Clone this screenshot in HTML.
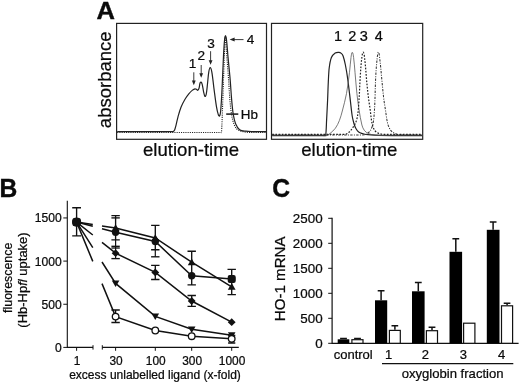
<!DOCTYPE html>
<html><head><meta charset="utf-8"><title>Figure</title>
<style>
html,body{margin:0;padding:0;background:#fff;}
body{width:520px;height:382px;overflow:hidden;}
svg{display:block;}
text{font-family:"Liberation Sans",Arial,Helvetica,sans-serif;fill:#0a0a0a;stroke:#0a0a0a;stroke-width:0.24px;}
.b{font-weight:bold;stroke-width:0.4px;}
</style></head><body>
<svg width="520" height="382" viewBox="0 0 520 382">
<rect x="0" y="0" width="520" height="382" fill="#fff"/>

<text class="b" transform="translate(96.6,19.2) scale(1.03,1)" font-size="24.8">A</text>
<rect x="116.6" y="23.4" width="149.9" height="115.9" fill="none" stroke="#222" stroke-width="1.2"/>
<rect x="271.5" y="23.4" width="151.2" height="115.9" fill="none" stroke="#222" stroke-width="1.2"/>
<text transform="translate(110.6,79.8) rotate(-90)" text-anchor="middle" font-size="18.5">absorbance</text>
<text x="191" y="155.7" text-anchor="middle" font-size="18.6">elution-time</text>
<text x="349.3" y="155.8" text-anchor="middle" font-size="18.6">elution-time</text>
<path d="M117.20,131.60 C134.13,131.60 151.07,131.60 168.00,131.60 C169.33,131.60 170.67,131.60 172.00,131.60 C172.43,131.60 172.93,131.83 173.30,131.60 C173.89,131.24 174.33,130.63 174.60,130.00 C175.24,128.50 175.59,126.88 176.00,125.30 C176.73,122.48 177.22,119.60 178.00,116.80 C178.89,113.60 179.77,110.38 181.00,107.30 C182.11,104.53 183.50,101.87 185.00,99.30 C186.17,97.30 187.53,95.40 189.00,93.60 C190.04,92.32 191.21,91.13 192.50,90.10 C193.23,89.51 194.07,88.96 195.00,88.80 C195.56,88.70 196.10,89.13 196.60,89.40 C197.04,89.64 197.35,90.51 197.80,90.30 C198.40,90.03 198.77,89.04 199.00,88.30 C199.50,86.71 199.50,84.85 200.00,83.30 C200.16,82.80 200.53,81.88 201.00,82.10 C201.60,82.37 201.98,83.49 202.20,84.30 C202.86,86.76 203.03,89.32 203.60,91.80 C203.96,93.36 204.30,95.88 205.00,96.40 C205.65,96.88 206.11,94.75 206.30,93.80 C206.90,90.78 207.12,87.14 207.50,83.80 C207.95,79.80 208.15,75.70 208.80,71.80 C209.04,70.34 209.50,67.60 210.20,67.60 C211.00,67.60 211.54,70.33 211.80,71.80 C212.81,77.42 213.24,83.14 214.00,88.80 C214.81,94.80 215.50,100.82 216.50,106.80 C216.94,109.43 217.47,112.06 218.30,114.60 C218.49,115.18 219.11,116.47 219.50,116.00 C220.05,115.33 220.46,113.24 220.60,111.80 C221.30,104.49 221.62,97.14 222.00,89.80 C222.59,78.47 222.91,67.13 223.50,55.80 C223.78,50.36 224.06,44.92 224.60,39.50 C224.73,38.24 225.05,35.73 225.50,35.80 C226.00,35.88 226.34,38.44 226.50,39.80 C227.17,45.45 227.48,51.14 228.00,56.80 C228.71,64.54 229.54,72.26 230.20,80.00 C230.78,86.79 231.09,93.61 231.70,100.40 C232.13,105.14 232.50,109.90 233.30,114.60 C233.84,117.79 234.50,121.12 235.70,124.00 C236.59,126.12 237.72,128.37 239.60,129.70 C241.36,130.94 243.76,130.90 245.90,131.20 C248.25,131.53 250.63,131.52 253.00,131.60 C254.67,131.66 256.33,131.60 258.00,131.60 C260.67,131.60 263.33,131.60 266.00,131.60" fill="none" stroke="#222" stroke-width="1.2" stroke-linejoin="round"/>
<path d="M117.20,132.50 C149.80,132.50 182.40,132.50 215.00,132.50 C216.83,132.50 218.67,132.50 220.50,132.50 C220.80,132.50 221.34,132.79 221.40,132.50 C221.65,131.16 221.80,127.50 221.90,125.00 C222.50,110.00 222.96,95.00 223.50,80.00 C223.86,70.00 224.15,60.00 224.60,50.00 C224.81,45.33 225.05,36.00 225.50,36.00 C225.95,36.00 226.07,45.34 226.40,50.00 C227.10,60.00 227.89,70.00 228.60,80.00 C229.16,87.86 229.42,95.75 230.20,103.60 C230.72,108.86 231.35,114.72 232.50,119.30 C233.33,122.60 234.50,126.36 236.50,128.70 C238.04,130.50 240.72,130.96 243.00,131.60 C245.26,132.24 247.65,132.34 250.00,132.50 C252.00,132.64 254.00,132.50 256.00,132.50 C259.33,132.50 262.67,132.50 266.00,132.50" fill="none" stroke="#222" stroke-width="1.1" stroke-dasharray="1.1,1.1"/>
<text x="192.6" y="68.2" text-anchor="middle" font-size="13.6">1</text>
<text x="201.2" y="59.5" text-anchor="middle" font-size="13.6">2</text>
<text x="211" y="47.7" text-anchor="middle" font-size="13.6">3</text>
<text x="250.5" y="44.3" text-anchor="middle" font-size="13.6">4</text>
<text x="240.8" y="119.2" font-size="13.4">Hb</text>
<path d="M193.8,72.3 L193.8,83.2" stroke="#222" stroke-width="0.9" fill="none"/>
<path d="M191.9,80.60000000000001 L195.70000000000002,80.60000000000001 L193.8,85.2 Z" fill="#222"/>
<path d="M201.2,65 L201.2,75.8" stroke="#222" stroke-width="0.9" fill="none"/>
<path d="M199.29999999999998,73.2 L203.1,73.2 L201.2,77.8 Z" fill="#222"/>
<path d="M210.6,51.2 L210.6,62.8" stroke="#222" stroke-width="0.9" fill="none"/>
<path d="M208.7,60.199999999999996 L212.5,60.199999999999996 L210.6,64.8 Z" fill="#222"/>
<path d="M243.5,39.6 L233,39.6" stroke="#222" stroke-width="0.9" fill="none"/>
<path d="M234.6,37.6 L234.6,41.6 L229.6,39.6 Z" fill="#222"/>
<path d="M226.2,114.1 L238.3,114.1" stroke="#222" stroke-width="1.6" fill="none"/>
<text x="338" y="40.6" text-anchor="middle" font-size="14.5">1</text>
<text x="352.4" y="40.6" text-anchor="middle" font-size="14.5">2</text>
<text x="363.9" y="40.6" text-anchor="middle" font-size="14.5">3</text>
<text x="378.9" y="40.6" text-anchor="middle" font-size="14.5">4</text>
<path d="M272.20,135.30 C288.80,135.30 305.40,135.30 322.00,135.30 C322.93,135.30 323.87,135.30 324.80,135.30 C325.07,135.30 325.52,135.56 325.60,135.30 C325.85,134.47 326.01,132.44 326.10,131.00 C326.34,127.34 326.42,123.67 326.60,120.00 C326.92,113.33 327.30,106.67 327.60,100.00 C327.87,94.00 328.00,88.00 328.30,82.00 C328.53,77.33 328.75,71.56 329.20,68.00 C329.65,64.45 330.30,60.25 331.40,57.50 C332.13,55.68 333.59,54.13 335.20,53.00 C336.20,52.30 337.58,52.22 338.80,52.30 C339.71,52.36 340.61,52.81 341.30,53.40 C342.10,54.09 342.75,55.01 343.10,56.00 C344.13,58.92 344.79,61.96 345.40,65.00 C346.32,69.57 347.06,74.18 347.70,78.80 C348.69,85.88 349.44,93.00 350.30,100.10 C350.94,105.40 351.39,110.72 352.20,116.00 C352.56,118.37 353.16,120.69 353.80,123.00 C354.23,124.56 354.70,126.13 355.40,127.60 C355.95,128.75 356.65,129.85 357.50,130.80 C358.20,131.58 359.06,132.24 360.00,132.70 C361.26,133.32 362.64,133.66 364.00,134.00 C365.31,134.33 366.65,134.57 368.00,134.70 C370.33,134.93 372.66,135.03 375.00,135.10 C379.33,135.23 383.67,135.28 388.00,135.30 C399.33,135.35 410.67,135.30 422.00,135.30" fill="none" stroke="#222" stroke-width="1.2"/>
<path d="M272.20,135.90 C288.80,135.90 305.40,135.90 322.00,135.90 C323.33,135.90 324.72,136.28 326.00,135.90 C327.49,135.45 328.80,134.49 330.00,133.50 C331.95,131.90 333.92,130.24 335.40,128.20 C337.09,125.86 338.32,123.18 339.40,120.50 C340.63,117.43 341.46,114.20 342.30,111.00 C343.83,105.20 345.40,99.40 346.50,93.50 C347.81,86.48 348.61,79.38 349.50,72.30 C350.12,67.38 350.31,62.41 351.00,57.50 C351.25,55.73 351.65,52.30 352.30,52.30 C352.95,52.30 353.36,55.73 353.60,57.50 C354.26,62.41 354.55,67.37 355.00,72.30 C355.65,79.37 356.14,86.45 356.90,93.50 C357.48,98.85 358.16,104.19 359.00,109.50 C359.82,114.69 360.59,119.91 361.90,125.00 C362.40,126.95 363.17,128.90 364.40,130.50 C365.44,131.86 366.93,132.91 368.50,133.60 C370.54,134.50 372.79,134.92 375.00,135.20 C378.31,135.62 381.67,135.56 385.00,135.70 C387.33,135.80 389.67,135.89 392.00,135.90 C402.00,135.95 412.00,135.90 422.00,135.90" fill="none" stroke="#555" stroke-width="0.8"/>
<path d="M272.20,134.40 C294.13,134.40 316.07,134.40 338.00,134.40 C339.67,134.40 341.33,134.46 343.00,134.40 C344.07,134.36 345.21,134.50 346.20,134.10 C347.44,133.60 348.53,132.72 349.50,131.80 C350.58,130.77 351.45,129.53 352.30,128.30 C353.42,126.69 354.63,125.11 355.40,123.30 C356.42,120.90 357.20,118.37 357.60,115.80 C358.30,111.31 358.65,105.41 359.00,100.20 C359.55,92.07 359.77,83.93 360.30,75.80 C360.67,70.13 361.01,64.44 361.70,58.80 C361.98,56.56 362.45,52.20 363.20,52.20 C363.95,52.20 364.44,56.56 364.70,58.80 C365.67,67.01 366.11,75.27 366.90,83.50 C367.34,88.11 367.83,92.71 368.40,97.30 C368.86,101.04 369.46,104.77 370.00,108.50 C370.76,113.83 371.15,119.52 372.30,124.50 C372.83,126.81 373.75,129.25 375.20,131.00 C376.38,132.43 378.23,133.24 380.00,133.80 C381.92,134.40 383.99,134.37 386.00,134.40 C398.00,134.57 410.00,134.40 422.00,134.40" fill="none" stroke="#222" stroke-width="1.2" stroke-dasharray="1.7,1.5"/>
<path d="M272.20,135.00 C299.80,135.00 327.40,135.00 355.00,135.00 C357.33,135.00 359.67,135.13 362.00,135.00 C363.35,134.93 364.75,134.90 366.00,134.40 C367.15,133.94 368.12,133.08 369.00,132.20 C369.81,131.39 370.51,130.44 371.00,129.40 C371.89,127.51 372.75,125.56 373.10,123.50 C373.85,119.04 374.31,113.18 374.60,108.00 C375.15,98.16 375.18,87.33 375.70,77.00 C375.98,71.32 376.38,65.65 377.00,60.00 C377.29,57.37 377.70,52.20 378.40,52.20 C379.15,52.20 379.58,57.37 379.90,60.00 C380.85,67.81 381.42,75.67 382.20,83.50 C382.72,88.67 383.17,93.84 383.80,99.00 C384.23,102.51 384.84,106.00 385.40,109.50 C386.14,114.17 386.55,119.05 387.70,123.50 C388.33,125.94 389.28,128.39 390.80,130.40 C391.94,131.91 393.65,132.98 395.40,133.70 C397.47,134.55 399.76,134.89 402.00,135.00 C408.66,135.33 415.33,135.00 422.00,135.00" fill="none" stroke="#333" stroke-width="1.05" stroke-dasharray="2.4,1.3,1,1.3"/>
<text class="b" transform="translate(-0.6,197.1) scale(1,1.04)" font-size="24.6">B</text>
<text transform="translate(11.8,277.8) rotate(-90)" text-anchor="middle" font-size="12.4">fluorescence</text>
<text transform="translate(26.6,280) rotate(-90)" text-anchor="middle" font-size="13">(Hb-Hp<tspan font-style="italic">fl</tspan> uptake)</text>
<path d="M67.3,200.7 L67.3,347.4 L93,347.4 M102.3,347.4 L238.8,347.4" stroke="#111" stroke-width="1.1" fill="none"/>
<path d="M93,345.2 L93,349.59999999999997 M102.3,345.2 L102.3,349.59999999999997" stroke="#111" stroke-width="1" fill="none"/>
<path d="M63.3,347.4 L67.3,347.4" stroke="#111" stroke-width="1" fill="none"/>
<text x="61.7" y="351.8" text-anchor="end" font-size="12.1">0</text>
<path d="M63.3,304.25 L67.3,304.25" stroke="#111" stroke-width="1" fill="none"/>
<text x="61.7" y="308.6" text-anchor="end" font-size="12.1">500</text>
<path d="M63.3,261.09999999999997 L67.3,261.09999999999997" stroke="#111" stroke-width="1" fill="none"/>
<text x="61.7" y="265.5" text-anchor="end" font-size="12.1">1000</text>
<path d="M63.3,217.95 L67.3,217.95" stroke="#111" stroke-width="1" fill="none"/>
<text x="61.7" y="222.3" text-anchor="end" font-size="12.1">1500</text>
<path d="M76.6,347.4 L76.6,350.79999999999995" stroke="#111" stroke-width="1" fill="none"/>
<text x="77.0" y="364.6" text-anchor="middle" font-size="11.9">1</text>
<path d="M115.6,347.4 L115.6,350.79999999999995" stroke="#111" stroke-width="1" fill="none"/>
<text x="116.0" y="364.6" text-anchor="middle" font-size="11.9">30</text>
<path d="M155.3,347.4 L155.3,350.79999999999995" stroke="#111" stroke-width="1" fill="none"/>
<text x="155.70000000000002" y="364.6" text-anchor="middle" font-size="11.9">100</text>
<path d="M191.7,347.4 L191.7,350.79999999999995" stroke="#111" stroke-width="1" fill="none"/>
<text x="192.1" y="364.6" text-anchor="middle" font-size="11.9">300</text>
<path d="M231.7,347.4 L231.7,350.79999999999995" stroke="#111" stroke-width="1" fill="none"/>
<text x="232.1" y="364.6" text-anchor="middle" font-size="11.9">1000</text>
<text x="155" y="379.4" text-anchor="middle" font-size="12.03">excess unlabelled ligand (x-fold)</text>
<path d="M76.6,222.1 L92.8,224.6 M102,225.9 L115.6,228.0 L155.3,238.0 L191.7,262.2 L231.7,286.8" stroke="#111" stroke-width="1.5" fill="none"/>
<path d="M76.6,222.1 L92.8,226.3 M102,228.7 L115.6,232.2 L155.3,241.5 L191.7,275.8 L231.7,279.0" stroke="#111" stroke-width="1.5" fill="none"/>
<path d="M76.6,222.1 L92.8,235.0 M102,242.4 L115.6,253.2 L155.3,272.4 L191.7,301.0 L231.7,322.2" stroke="#111" stroke-width="1.5" fill="none"/>
<path d="M76.6,222.1 L92.8,247.6 M102,262.0 L115.6,283.4 L155.3,316.4 L191.7,329.3 L231.7,335.2" stroke="#111" stroke-width="1.5" fill="none"/>
<path d="M76.6,222.1 L92.8,261.4 M102,283.6 L115.6,316.6 L155.3,330.5 L191.7,336.2 L231.7,338.8" stroke="#111" stroke-width="1.5" fill="none"/>
<path d="M76.6,207.7 L76.6,235.9 M72.19999999999999,207.7 L81.0,207.7 M72.19999999999999,235.9 L81.0,235.9" stroke="#111" stroke-width="1.35" fill="none"/>
<path d="M115.6,215.6 L115.6,239.8 M111.39999999999999,215.6 L119.8,215.6 M111.39999999999999,239.8 L119.8,239.8" stroke="#111" stroke-width="1.35" fill="none"/>
<path d="M111.39999999999999,217.9 L119.8,217.9" stroke="#111" stroke-width="1.35" fill="none"/>
<path d="M111.39999999999999,246.3 L119.8,246.3" stroke="#111" stroke-width="1.35" fill="none"/>
<path d="M115.6,240 L115.6,258.6" stroke="#111" stroke-width="1.2"/>
<path d="M111.39999999999999,248 L119.8,248" stroke="#111" stroke-width="1.35" fill="none"/>
<path d="M111.39999999999999,258.6 L119.8,258.6" stroke="#111" stroke-width="1.35" fill="none"/>
<path d="M115.6,310 L115.6,322.5 M111.39999999999999,310 L119.8,310 M111.39999999999999,322.5 L119.8,322.5" stroke="#111" stroke-width="1.35" fill="none"/>
<path d="M155.3,225.3 L155.3,249.7 M151.10000000000002,225.3 L159.5,225.3 M151.10000000000002,249.7 L159.5,249.7" stroke="#111" stroke-width="1.35" fill="none"/>
<path d="M151.10000000000002,256.8 L159.5,256.8" stroke="#111" stroke-width="1.35" fill="none"/>
<path d="M155.3,249 L155.3,256.8" stroke="#111" stroke-width="1.2"/>
<path d="M155.3,265.4 L155.3,279.5 M151.10000000000002,265.4 L159.5,265.4 M151.10000000000002,279.5 L159.5,279.5" stroke="#111" stroke-width="1.35" fill="none"/>
<path d="M191.7,251.2 L191.7,284.8 M187.5,251.2 L195.89999999999998,251.2 M187.5,284.8 L195.89999999999998,284.8" stroke="#111" stroke-width="1.35" fill="none"/>
<path d="M191.7,295.5 L191.7,306.3 M187.5,295.5 L195.89999999999998,295.5 M187.5,306.3 L195.89999999999998,306.3" stroke="#111" stroke-width="1.35" fill="none"/>
<path d="M231.7,269.3 L231.7,294.6 M227.5,269.3 L235.89999999999998,269.3 M227.5,294.6 L235.89999999999998,294.6" stroke="#111" stroke-width="1.35" fill="none"/>
<path d="M231.7,335.5 L231.7,343 M228.1,335.5 L235.29999999999998,335.5 M228.1,343 L235.29999999999998,343" stroke="#111" stroke-width="1.35" fill="none"/>
<path d="M111.69999999999999,230.925 L119.5,230.925 L115.6,224.295 Z" fill="#111"/>
<path d="M151.4,240.925 L159.20000000000002,240.925 L155.3,234.295 Z" fill="#111"/>
<path d="M187.79999999999998,265.125 L195.6,265.125 L191.7,258.495 Z" fill="#111"/>
<path d="M227.79999999999998,289.725 L235.6,289.725 L231.7,283.095 Z" fill="#111"/>
<circle cx="115.6" cy="232.2" r="3.7" fill="#111"/>
<circle cx="155.3" cy="241.5" r="3.7" fill="#111"/>
<circle cx="191.7" cy="275.8" r="3.7" fill="#111"/>
<circle cx="231.7" cy="279.0" r="3.7" fill="#111"/>
<path d="M111.69999999999999,253.2 L115.6,249.29999999999998 L119.5,253.2 L115.6,257.09999999999997 Z" fill="#111"/>
<path d="M151.4,272.4 L155.3,268.5 L159.20000000000002,272.4 L155.3,276.29999999999995 Z" fill="#111"/>
<path d="M187.79999999999998,301.0 L191.7,297.1 L195.6,301.0 L191.7,304.9 Z" fill="#111"/>
<path d="M227.79999999999998,322.2 L231.7,318.3 L235.6,322.2 L231.7,326.09999999999997 Z" fill="#111"/>
<path d="M111.8,280.54999999999995 L119.39999999999999,280.54999999999995 L115.6,287.01 Z" fill="#111"/>
<path d="M151.5,313.54999999999995 L159.10000000000002,313.54999999999995 L155.3,320.01 Z" fill="#111"/>
<path d="M187.89999999999998,326.45 L195.5,326.45 L191.7,332.91 Z" fill="#111"/>
<path d="M227.89999999999998,332.34999999999997 L235.5,332.34999999999997 L231.7,338.81 Z" fill="#111"/>
<circle cx="115.6" cy="316.6" r="3.3" fill="#fff" stroke="#111" stroke-width="1.3"/>
<circle cx="155.3" cy="330.5" r="3.3" fill="#fff" stroke="#111" stroke-width="1.3"/>
<circle cx="191.7" cy="336.2" r="3.3" fill="#fff" stroke="#111" stroke-width="1.3"/>
<circle cx="231.7" cy="338.8" r="3.3" fill="#fff" stroke="#111" stroke-width="1.3"/>
<rect x="72.39999999999999" y="217.9" width="8.4" height="8.4" rx="2.2" fill="#111"/>
<circle cx="76.6" cy="222.1" r="4.6" fill="#111"/>
<rect x="227.7" y="275.1" width="8" height="7.8" rx="2" fill="#111"/>
<text class="b" transform="translate(272.2,197.4) scale(1,1.05)" font-size="24.6">C</text>
<text transform="translate(285.3,278.8) rotate(-90)" text-anchor="middle" font-size="15.1">HO-1 mRNA</text>
<path d="M332.1,217.8 L332.1,343.3 L518.6,343.3" stroke="#111" stroke-width="1.2" fill="none"/>
<path d="M328.2,343.3 L332.1,343.3" stroke="#111" stroke-width="1" fill="none"/>
<text x="322.6" y="348.1" text-anchor="end" font-size="13.4">0</text>
<path d="M328.2,318.3 L332.1,318.3" stroke="#111" stroke-width="1" fill="none"/>
<text x="322.6" y="323.1" text-anchor="end" font-size="13.4">500</text>
<path d="M328.2,293.3 L332.1,293.3" stroke="#111" stroke-width="1" fill="none"/>
<text x="322.6" y="298.1" text-anchor="end" font-size="13.4">1000</text>
<path d="M328.2,268.3 L332.1,268.3" stroke="#111" stroke-width="1" fill="none"/>
<text x="322.6" y="273.1" text-anchor="end" font-size="13.4">1500</text>
<path d="M328.2,243.3 L332.1,243.3" stroke="#111" stroke-width="1" fill="none"/>
<text x="322.6" y="248.1" text-anchor="end" font-size="13.4">2000</text>
<path d="M328.2,218.3 L332.1,218.3" stroke="#111" stroke-width="1" fill="none"/>
<text x="322.6" y="223.1" text-anchor="end" font-size="13.4">2500</text>
<path d="M343.5,339.3 L343.5,338.6 M340.1,338.6 L346.9,338.6" stroke="#111" stroke-width="1.5" fill="none"/>
<rect x="337.7" y="339.3" width="11.6" height="4.0" fill="#000"/>
<path d="M357.5,339.1 L357.5,338.4 M354.1,338.4 L360.9,338.4" stroke="#111" stroke-width="1.5" fill="none"/>
<rect x="351.90000000000003" y="339.7" width="11.1" height="3.6" fill="#fff" stroke="#111" stroke-width="1.2"/>
<path d="M381.1,300.3 L381.1,290.8 M377.7,290.8 L384.5,290.8" stroke="#111" stroke-width="1.5" fill="none"/>
<rect x="375.0" y="300.3" width="12.2" height="43.0" fill="#000"/>
<path d="M394.9,329.8 L394.9,325.8 M391.5,325.8 L398.2,325.8" stroke="#111" stroke-width="1.5" fill="none"/>
<rect x="389.40000000000003" y="330.4" width="10.9" height="12.9" fill="#fff" stroke="#111" stroke-width="1.2"/>
<path d="M418.3,291.3 L418.3,282.6 M414.9,282.6 L421.7,282.6" stroke="#111" stroke-width="1.5" fill="none"/>
<rect x="412.0" y="291.3" width="12.6" height="52.0" fill="#000"/>
<path d="M432.0,330.1 L432.0,327.3 M428.6,327.3 L435.4,327.3" stroke="#111" stroke-width="1.5" fill="none"/>
<rect x="426.40000000000003" y="330.7" width="11.1" height="12.7" fill="#fff" stroke="#111" stroke-width="1.2"/>
<path d="M455.8,251.8 L455.8,238.8 M452.4,238.8 L459.2,238.8" stroke="#111" stroke-width="1.5" fill="none"/>
<rect x="449.5" y="251.8" width="12.6" height="91.5" fill="#000"/>
<rect x="463.6" y="323.2" width="11.3" height="20.1" fill="#fff" stroke="#111" stroke-width="1.2"/>
<path d="M493.1,229.8 L493.1,222.1 M489.8,222.1 L496.5,222.1" stroke="#111" stroke-width="1.5" fill="none"/>
<rect x="486.8" y="229.8" width="12.7" height="113.5" fill="#000"/>
<path d="M507.1,305.2 L507.1,303.3 M503.7,303.3 L510.4,303.3" stroke="#111" stroke-width="1.5" fill="none"/>
<rect x="501.5" y="305.8" width="11.1" height="37.5" fill="#fff" stroke="#111" stroke-width="1.2"/>
<text x="353.2" y="358.6" text-anchor="middle" font-size="13">control</text>
<text x="388.5" y="358.5" text-anchor="middle" font-size="13">1</text>
<text x="425.4" y="358.5" text-anchor="middle" font-size="13">2</text>
<text x="463.3" y="358.5" text-anchor="middle" font-size="13">3</text>
<text x="501.7" y="358.5" text-anchor="middle" font-size="13">4</text>
<path d="M382,363.6 L513.3,363.6" stroke="#111" stroke-width="1.4" fill="none"/>
<text x="452.6" y="377.8" text-anchor="middle" font-size="13.1">oxyglobin fraction</text>
</svg></body></html>
